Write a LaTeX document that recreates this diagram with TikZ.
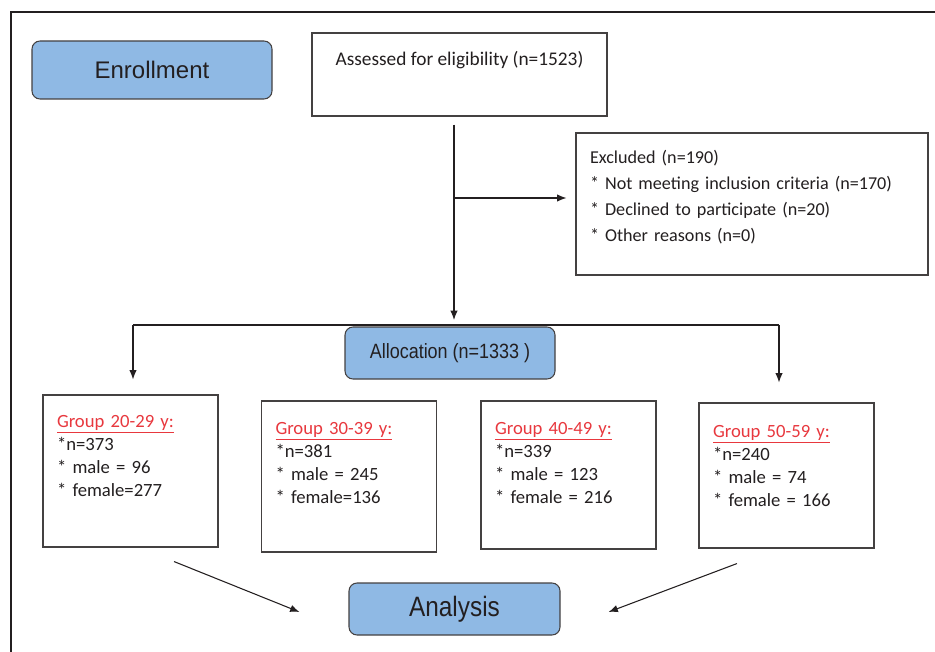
\documentclass[tikz,border=0pt]{standalone}
\usepackage{fontspec}
\setmainfont{Carlito}
\newfontfamily\arialfont{Liberation Sans}
\newfontfamily\narrowfont[FakeStretch=0.87]{Liberation Sans}
\usepackage{tikz}
\usepackage{color}
\usetikzlibrary{calc,arrows.meta}
\definecolor{boxblue}{RGB}{143,185,228}
\definecolor{titlered}{RGB}{232,56,62}
\definecolor{inkgray}{RGB}{35,31,32}
\newcommand{\tikzGroupNode}[8]{
  \node[group box,text height=#4,text depth=#3-#4] (#1) at (#2)
    {\textcolor{titlered}{\underline{#5}}\\{}*n=#6\\{}#7\\{}#8};
}

\begin{document}
\begin{tikzpicture}[x=0.75pt, y=-0.75pt, line width=0.8pt, >={Latex[length=7pt,width=5.5pt]},
  color=inkgray,
  blue box/.style={draw=inkgray!85,fill=boxblue,rounded corners=6pt,inner sep=0pt},
  plain box/.style={draw=inkgray!85,fill=white,inner ysep=0pt},
  group box/.style={plain box,inner xsep=10.5pt,text width=110.25pt,align=left,
    font=\fontsize{14}{17.25}\selectfont}]
  \useasboundingbox (0,0) rectangle (935,652);
  \draw[line width=1.5pt] (11,652) -- (11,12) -- (935,12);

  \node [blue box,minimum width=180pt,minimum height=43.5pt,font=\arialfont\fontsize{18}{20}\selectfont]
    (enrol) at (152,70) {Enrollment};
  \node [plain box,minimum width=221.25pt,text height=24.75pt,text depth=37.5pt,
    font=\fontsize{14.5}{17}\selectfont] (assess) at (459.5,74.5) {Assessed for eligibility (n=1523)};
  \node [plain box,inner xsep=10.5pt,text width=243pt,align=left,text height=23.25pt,text depth=83.25pt,
    font=\fontsize{13.6}{19.5}\selectfont] (excluded) at (752,204)
    {Excluded (n=190)\\{}* Not meeting inclusion criteria (n=170)\\{}* Declined to participate (n=20)\\{}* Other reasons (n=0)};
  \node [blue box,minimum width=157.5pt,minimum height=39pt,font=\narrowfont\fontsize{15.5}{18}\selectfont]
    (alloc) at (450,353) {Allocation (n=1333 )};

  \tikzGroupNode{g1}{130.5,471}{114pt}{24pt}{Group 20-29 y:}{373}{* male = 96}{* female=277}
  \tikzGroupNode{g2}{349,476.5}{113.25pt}{24.75pt}{Group 30-39 y:}{381}{* male = 245}{* female=136}
  \tikzGroupNode{g3}{568.5,475}{111pt}{24.75pt}{Group 40-49 y:}{339}{* male = 123}{* female = 216}
  \tikzGroupNode{g4}{786.5,475.5}{108.75pt}{25.5pt}{Group 50-59 y:}{240}{* male = 74}{* female = 166}

  \node [blue box,minimum width=158.25pt,minimum height=39pt,font=\narrowfont\fontsize{21}{24}\selectfont]
    (analysis) at (454.5,609) {Analysis};

  \coordinate (split) at (454,325);
  \coordinate (branch) at (454,198);
  \coordinate (lft) at (133,325);
  \coordinate (rgt) at (779,325);

  \draw[->,shorten <=6pt,shorten >=3.75pt] (assess.south -| split) -- (split);
  \draw[->,shorten >=6.75pt] (branch) -- (branch -| excluded.west);
  \draw (lft) -- (rgt);
  \draw[->,shorten >=11.25pt] (lft) -- (lft |- g1.north);
  \draw[->,shorten >=15pt] (rgt) -- (rgt |- g4.north);

  \draw[->] ($(g1.south)+(43.5,14)$) -- ($(analysis.west)+(-49,3)$);
  \draw[->] ($(g4.south)+(-49.5,15)$) -- ($(analysis.east)+(48,3)$);
\end{tikzpicture}
\end{document}
